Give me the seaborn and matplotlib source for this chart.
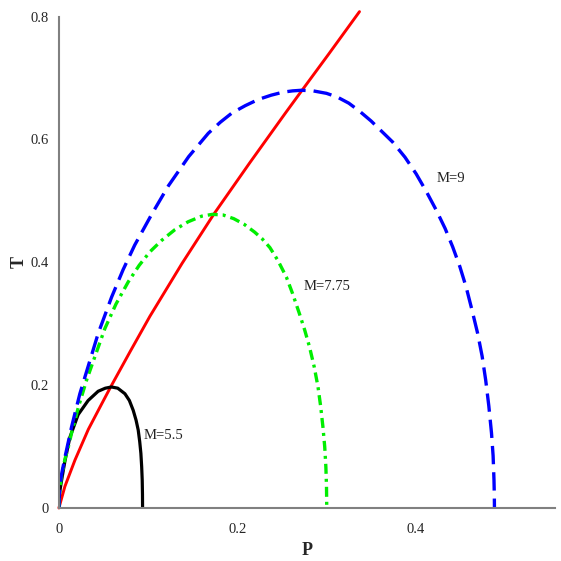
import matplotlib
matplotlib.use("Agg")
import matplotlib.pyplot as plt
import seaborn as sns

# curves (P, T)
P_m55 = [0.0, 0.0003, 0.001, 0.003, 0.0067, 0.0123, 0.0216, 0.0328, 0.044, 0.052,
         0.059, 0.066, 0.074, 0.079, 0.0833, 0.0865, 0.0889, 0.0906, 0.0919,
         0.0928, 0.0934, 0.0937, 0.0938]
T_m55 = [0.0, 0.014, 0.027, 0.045, 0.076, 0.115, 0.152, 0.175, 0.190, 0.195,
         0.197, 0.195, 0.186, 0.175, 0.159, 0.143, 0.127, 0.108, 0.089,
         0.067, 0.0455, 0.022, 0.0]

P_m775 = [0.0, 0.0003, 0.0011, 0.003, 0.0067, 0.011, 0.0142, 0.022, 0.031, 0.040,
          0.0515, 0.064, 0.0777, 0.090, 0.102, 0.1155, 0.130, 0.145, 0.160,
          0.172, 0.184, 0.196, 0.2075, 0.2195, 0.228, 0.2365, 0.2455, 0.255,
          0.262, 0.2695, 0.2755, 0.281, 0.2862, 0.2905, 0.2935, 0.296, 0.298,
          0.2993, 0.3, 0.3003]
T_m775 = [0.0, 0.016, 0.033, 0.052, 0.079, 0.102, 0.122, 0.165, 0.208, 0.245,
          0.292, 0.332, 0.368, 0.395, 0.417, 0.436, 0.453, 0.466, 0.475,
          0.478, 0.477, 0.471, 0.462, 0.449, 0.438, 0.424, 0.403, 0.376,
          0.349, 0.317, 0.290, 0.262, 0.230, 0.197, 0.165, 0.132, 0.100,
          0.067, 0.035, 0.0]

P_m9 = [0.0, 0.0003, 0.0011, 0.003, 0.0067, 0.0142, 0.0235, 0.031, 0.044, 0.059,
        0.072, 0.085, 0.104, 0.123, 0.1455, 0.1675, 0.181, 0.194, 0.209, 0.2235,
        0.238, 0.2515, 0.262, 0.272, 0.285, 0.300, 0.312, 0.325, 0.337, 0.350,
        0.362, 0.374, 0.388, 0.4005, 0.412, 0.423, 0.433, 0.4415, 0.4495, 0.4565,
        0.463, 0.4695, 0.4745, 0.4785, 0.482, 0.485, 0.4868, 0.4878, 0.4882,
        0.4883]
T_m9 = [0.0, 0.018, 0.035, 0.055, 0.082, 0.132, 0.186, 0.222, 0.284, 0.343,
        0.388, 0.428, 0.478, 0.525, 0.572, 0.610, 0.628, 0.643, 0.655, 0.665,
        0.672, 0.677, 0.679, 0.680, 0.679, 0.675, 0.669, 0.659, 0.646, 0.630,
        0.613, 0.596, 0.571, 0.544, 0.515, 0.485, 0.455, 0.425, 0.393, 0.360,
        0.323, 0.284, 0.247, 0.208, 0.166, 0.122, 0.085, 0.045, 0.018,
        0.0]

P_red = [0.0, 0.0067, 0.018, 0.033, 0.0478, 0.058, 0.080, 0.102, 0.138, 0.174,
         0.214, 0.254, 0.2706, 0.302, 0.333, 0.337]
T_red = [0.0, 0.035, 0.078, 0.128, 0.169, 0.197, 0.255, 0.312, 0.398, 0.479,
         0.562, 0.643, 0.676, 0.738, 0.8, 0.808]

labels = ["M=5.5", "M=7.75", "M=9"]
label_pos = [(0.0947, 0.118), (0.274, 0.36), (0.424, 0.536)]

sns.set_style("white")
plt.rcParams['font.family'] = ['Liberation Serif', 'DejaVu Serif']

fig = plt.figure(figsize=(5.61, 5.61), dpi=100)
ax = fig.add_axes([0.105, 0.0945, 0.884, 0.876])

sns.lineplot(x=P_red, y=T_red, color="#ff0000", linewidth=2.1, sort=False,
             estimator=None, ax=ax, clip_on=False)
sns.lineplot(x=P_m55, y=T_m55, color="black", linewidth=2.3, sort=False,
             estimator=None, ax=ax)
sns.lineplot(x=P_m775, y=T_m775, color="#00ee00", linewidth=2.4, sort=False,
             estimator=None, ax=ax, linestyle=(0, (3.0, 1.5, 0.9, 1.5)))
sns.lineplot(x=P_m9, y=T_m9, color="#0000ff", linewidth=2.4, sort=False,
             estimator=None, ax=ax, linestyle=(0, (5.5, 2.4)))

for txt, (px, py) in zip(labels, label_pos):
    ax.text(px, py, txt, fontsize=10.5, ha="left", va="center", color="#222222")

ax.set_xlim(0, 0.556)
ax.set_ylim(0, 0.8)
ax.set_xticks([0, 0.2, 0.4])
ax.set_xticklabels(["0", "0.2", "0.4"])
ax.set_yticks([0, 0.2, 0.4, 0.6, 0.8])
ax.set_yticklabels(["0", "0.2", "0.4", "0.6", "0.8"])
ax.tick_params(axis="x", length=5, width=1, color="#d0d0d0", pad=6, labelsize=10.5)
ax.tick_params(axis="y", length=4, width=1, color="#909090", pad=3, labelsize=10.5)

for side in ["top", "right"]:
    ax.spines[side].set_visible(False)
for side in ["left", "bottom"]:
    ax.spines[side].set_color("#808080")
    ax.spines[side].set_linewidth(1.5)

ax.set_xlabel("P", fontsize=13, fontweight="bold", labelpad=4)
ax.set_ylabel("T", fontsize=13, fontweight="bold", labelpad=2)

fig.savefig("out.png", dpi=100)
